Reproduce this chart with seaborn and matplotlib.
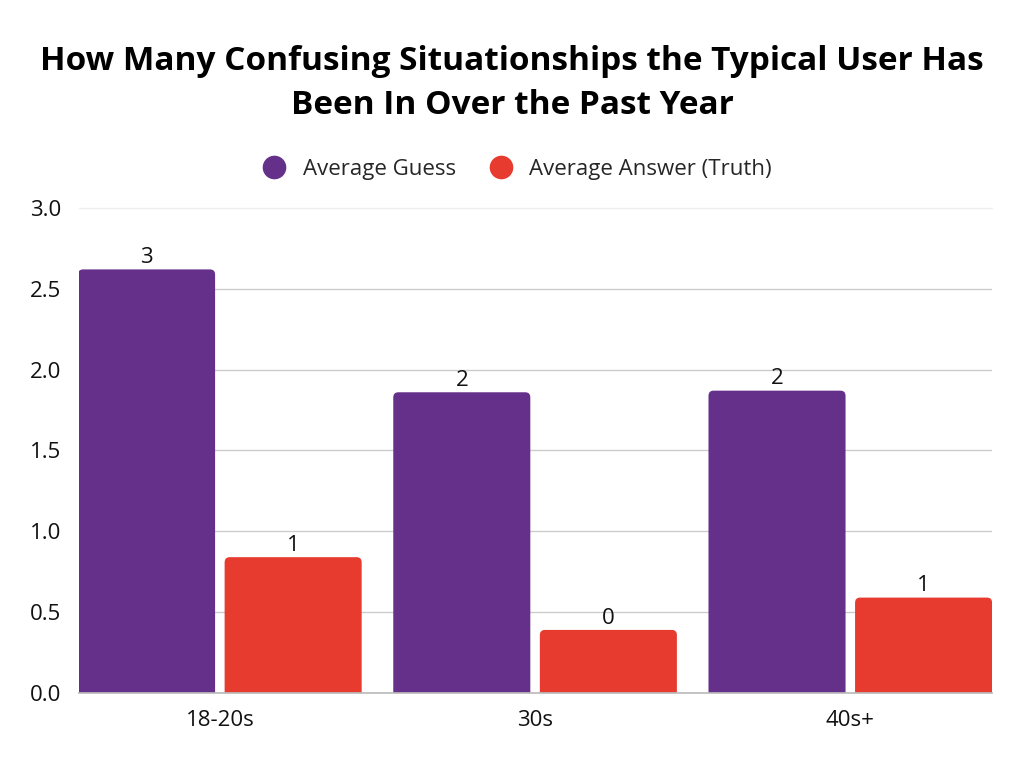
import matplotlib
matplotlib.use("Agg")
import matplotlib.pyplot as plt
import seaborn as sns
import pandas as pd
from matplotlib.patches import FancyBboxPatch
from matplotlib.lines import Line2D

categories = ["18-20s", "30s", "40s+"]
series_names = ["Average Guess", "Average Answer (Truth)"]
average_guess = [2.62, 1.86, 1.87]
average_truth = [0.84, 0.39, 0.59]
colors = ["#65308A", "#E83B30"]

df = pd.DataFrame({
    "Age": categories * 2,
    "Series": [series_names[0]] * 3 + [series_names[1]] * 3,
    "Value": average_guess + average_truth,
})

sns.set_theme(style="white")
plt.rcParams["font.family"] = ["Open Sans", "DejaVu Sans"]

fig = plt.figure(figsize=(10.24, 7.68), dpi=100)
ax = fig.add_axes([0.0771, 0.0977, 0.8918, 0.6315])

sns.barplot(data=df, x="Age", y="Value", hue="Series", palette=colors,
            width=0.93, gap=0.065, ax=ax, legend=False, saturation=1)

ax.set_xlim(-0.447, 2.45)
ax.set_ylim(0, 3.0)
ticks = [0, 0.5, 1.0, 1.5, 2.0, 2.5]
ax.set_yticks(ticks + [3.0])
ax.set_yticklabels(["0.0", "0.5", "1.0", "1.5", "2.0", "2.5", "3.0"])
for t in ticks[1:]:
    ax.axhline(t, color="#cccccc", linewidth=1, zorder=0)
ax.axhline(3.0, color="#eeeeee", linewidth=1, zorder=0, clip_on=False)
for s in ["top", "right", "left"]:
    ax.spines[s].set_visible(False)
ax.spines["bottom"].set_color("#bbbbbb")
ax.tick_params(axis="both", length=0, labelsize=16, colors="#111111")
ax.tick_params(axis="x", pad=12)
ax.tick_params(axis="y", pad=13)
ax.set_xlabel("")
ax.set_ylabel("")

# replace bars with rounded-top versions
patches = list(ax.patches)
ry = 0.032
aspect = 2.0
for p in patches:
    x, y = p.get_x(), p.get_y()
    w, h = p.get_width(), p.get_height()
    fc = p.get_facecolor()
    p.remove()
    rb = FancyBboxPatch((x, y - ry), w, h + ry,
                        boxstyle=f"round,pad=0,rounding_size={ry/aspect}",
                        mutation_aspect=aspect, facecolor=fc, edgecolor="none",
                        zorder=2, clip_on=True)
    ax.add_patch(rb)
    ax.annotate(f"{round(h):d}", (x + w / 2, h), xytext=(0, 1),
                textcoords="offset points", ha="center", va="bottom",
                fontsize=16, color="#111111")

# legend
handles = [Line2D([0], [0], marker="o", linestyle="", markersize=16,
                  markerfacecolor=c, markeredgecolor=c) for c in colors]
fig.legend(handles, series_names, loc="center", bbox_to_anchor=(0.5, 0.7795),
           ncol=2, frameon=False, fontsize=16, handletextpad=0.3,
           columnspacing=1.0)

fig.text(0.5, 0.891, "How Many Confusing Situationships the Typical User Has\nBeen In Over the Past Year",
         ha="center", va="center", fontsize=24, fontweight="bold",
         color="#000000", linespacing=1.42)

fig.savefig("out.png", dpi=100, facecolor="white")
